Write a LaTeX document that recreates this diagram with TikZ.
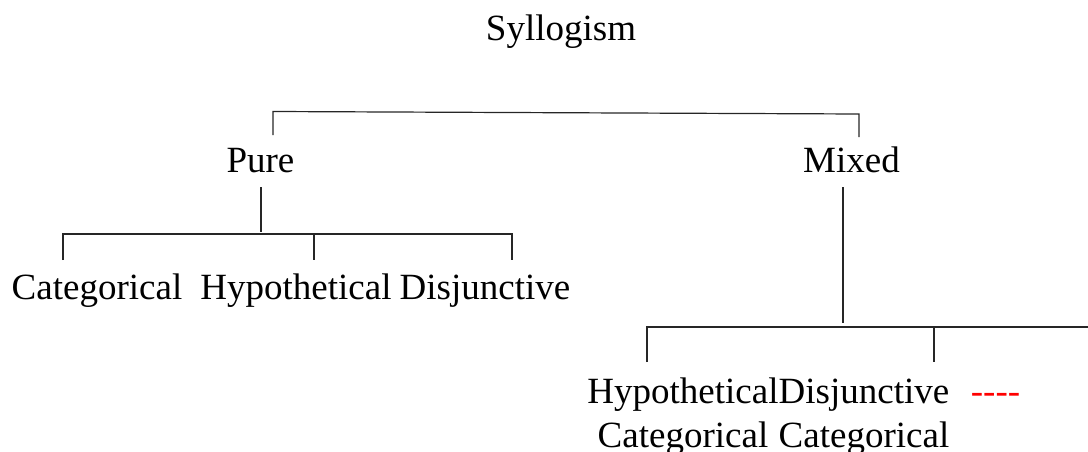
\documentclass[tikz,border=0pt]{standalone}
\usepackage{fontspec}
\setmainfont{Liberation Serif}
\begin{document}
\begin{tikzpicture}[x=1pt,y=-1pt,
  lbl/.style={inner sep=0pt, outer sep=0pt, anchor=base, align=center, font=\fontsize{37}{44}\selectfont},
  conn/.style={line width=1.2pt, draw=black!85}]
\useasboundingbox (0,0) rectangle (1088,452);
% labels
\node[lbl] (syl) at (561,41) {Syllogism};
\node[lbl] (pure) at (260.5,172) {Pure};
\node[lbl] (mixed) at (851.5,172) {Mixed};
\node[lbl] (pcat) at (97,299) {Categorical};
\node[lbl] (phyp) at (296,299) {Hypothetical};
\node[lbl] (pdis) at (485,299) {Disjunctive};
% multi-line nodes: base anchor is the baseline of the last line
\node[lbl] (mhyp) at (683,447) {Hypothetical\\Categorical};
\node[lbl] (mdis) at (864,447) {Disjunctive\\Categorical};
\node[lbl, text=red] (mdash) at (995.5,403) {\mbox{-}\mbox{-}\mbox{-}\mbox{-}};
% coordinates
\coordinate (tl) at (273,135);
\coordinate (tlt) at (273,111.5);
\coordinate (trt) at (859,114);
\coordinate (tr) at (859,137);
\coordinate (pv1) at (261,187);
\coordinate (pv2) at (261,232);
\coordinate (ph1) at (63,234);
\coordinate (ph2) at (314,234);
\coordinate (ph3) at (512,234);
\coordinate (pt1) at (63,260);
\coordinate (pt2) at (314,260);
\coordinate (pt3) at (512,260);
\coordinate (mv1) at (843,187);
\coordinate (mv2) at (843,323);
\coordinate (mh1) at (647,327);
\coordinate (mh2) at (934,327);
\coordinate (mh3) at (1088,327);
\coordinate (mt1) at (647,362);
\coordinate (mt2) at (934,362);
% connectors
\draw[conn] (tl) -- (tlt) -- (trt) -- (tr);
\draw[conn] (pv1) -- (pv2);
\draw[conn] (pt1) -- (ph1) -- (ph3) -- (pt3);
\draw[conn] (ph2) -- (pt2);
\draw[conn] (mv1) -- (mv2);
\draw[conn] (mt1) -- (mh1) -- (mh3);
\draw[conn] (mh2) -- (mt2);
\end{tikzpicture}
\end{document}
